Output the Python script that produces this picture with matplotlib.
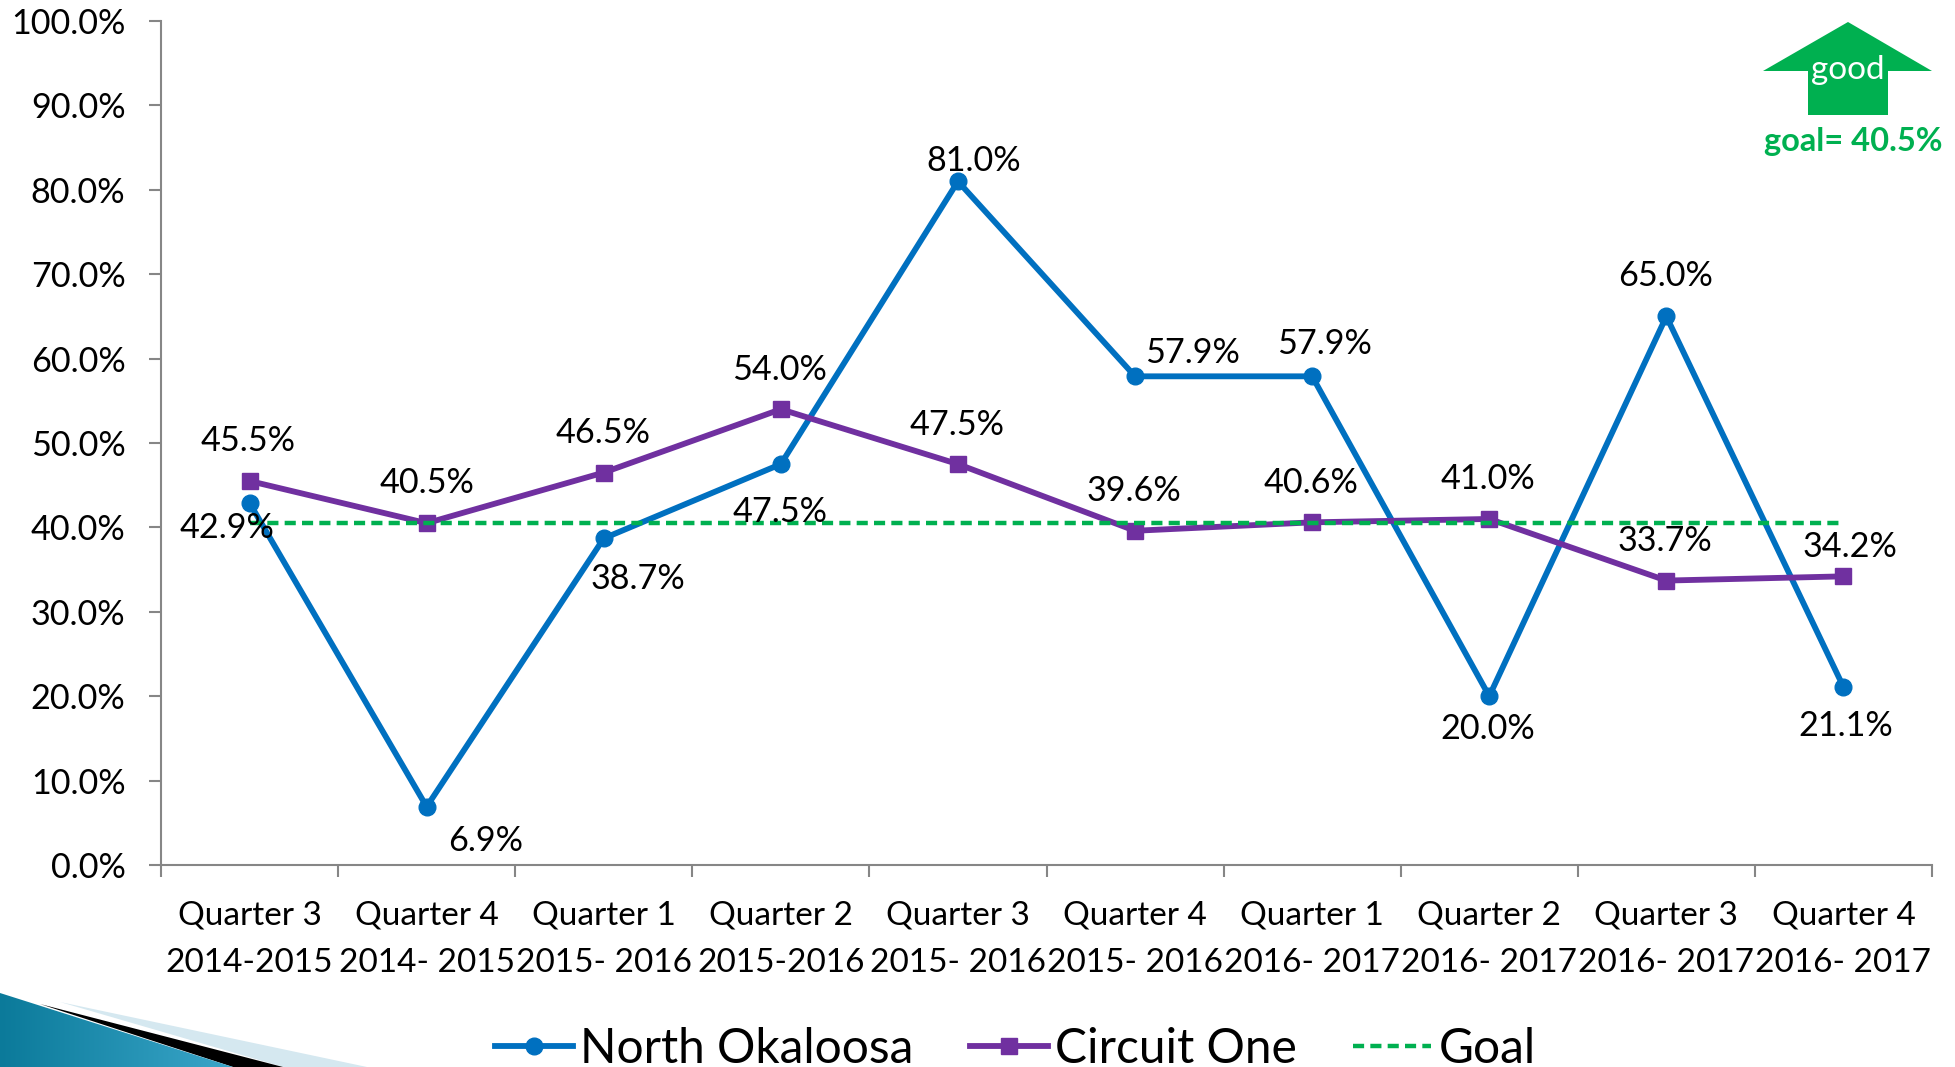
import numpy as np
import matplotlib
matplotlib.use("Agg")
import matplotlib.pyplot as plt
from matplotlib.patches import Polygon
from matplotlib.lines import Line2D

quarters = ["Quarter 3\n2014-2015", "Quarter 4\n2014- 2015", "Quarter 1\n2015- 2016",
            "Quarter 2\n2015-2016", "Quarter 3\n2015- 2016", "Quarter 4\n2015- 2016",
            "Quarter 1\n2016- 2017", "Quarter 2\n2016- 2017", "Quarter 3\n2016- 2017",
            "Quarter 4\n2016- 2017"]
north_okaloosa = [42.9, 6.9, 38.7, 47.5, 81.0, 57.9, 57.9, 20.0, 65.0, 21.1]
circuit_one = [45.5, 40.5, 46.5, 54.0, 47.5, 39.6, 40.6, 41.0, 33.7, 34.2]
goal = [40.5] * 10

# label offsets in pixels
north_off = [(-23, -25), (59, -34), (34, -41), (-1, -48), (16, 20),
             (57, 23), (12, 32), (-1, -33), (-1, 40), (2, -39)]
circuit_off = [(-1, 40), (0, 40), (-1, 40), (-1, 39), (-1, 39),
               (-1, 40), (-1, 39), (-1, 40), (-1, 40), (7, 29)]

BLUE = "#0070c0"
PURPLE = "#7030a0"
GREEN = "#00b050"
GRAY = "#868686"
W, H = 1956, 1067

plt.rcParams['font.family'] = ['Lato', 'DejaVu Sans']

fig = plt.figure(figsize=(W / 100, H / 100), dpi=100)
ax = fig.add_axes([161 / W, 1 - 865 / H, (1932 - 161) / W, (865 - 21) / H])

x = np.arange(10) + 0.5
ax.plot(x, north_okaloosa, color=BLUE, lw=4.2, marker="o", ms=12, label="North Okaloosa", zorder=3)
ax.plot(x, circuit_one, color=PURPLE, lw=4.2, marker="s", ms=12, label="Circuit One", zorder=4)
ax.plot(x, goal, color=GREEN, lw=3.2, ls=(0, (2.5, 1.4)), label="Goal", zorder=5)

ax.set_xlim(0, 10)
ax.set_ylim(0, 100)
ax.set_yticks(np.arange(0, 101, 10))
ax.set_yticklabels(["%.1f%%" % v for v in np.arange(0, 101, 10)])
ax.set_xticks(np.arange(11))
ax.set_xticklabels([])
ax.set_xticks(x, minor=True)
ax.set_xticklabels(quarters, minor=True)
ax.tick_params(axis="y", which="major", length=8.6, width=1.5, color=GRAY, labelsize=24.6, pad=17)
ax.tick_params(axis="x", which="major", length=8.6, width=1.5, color=GRAY)
ax.tick_params(axis="x", which="minor", length=0, labelsize=24, pad=25.5)
for lab in ax.get_xticklabels(minor=True):
    lab.set_linespacing(1.73)
for s in ["top", "right"]:
    ax.spines[s].set_visible(False)
for s in ["left", "bottom"]:
    ax.spines[s].set_color(GRAY)
    ax.spines[s].set_linewidth(1.5)

for xi, v, off in zip(x, north_okaloosa, north_off):
    ax.annotate("%.1f%%" % v, (xi, v), xytext=off, textcoords="offset pixels",
                ha="center", va="center", fontsize=24.6, color="black", zorder=6)
for xi, v, off in zip(x, circuit_one, circuit_off):
    ax.annotate("%.1f%%" % v, (xi, v), xytext=off, textcoords="offset pixels",
                ha="center", va="center", fontsize=24.6, color="black", zorder=6)

handles = [Line2D([], [], color=BLUE, lw=4.2, marker="o", ms=12),
           Line2D([], [], color=PURPLE, lw=4.2, marker="s", ms=12),
           Line2D([], [], color=GREEN, lw=3.2, ls=(0, (2.5, 1.4)))]
fig.legend(handles, ["North Okaloosa", "Circuit One", "Goal"], ncol=3, frameon=False,
           loc="lower center", bbox_to_anchor=(814 * 1.2474 / W, -0.026), fontsize=34.5,
           handlelength=1.62, handletextpad=0.16, columnspacing=1.17, borderpad=0)

# overlay in picture pixels for the arrow and the corner decoration
deco = fig.add_axes([0, 0, 1, 1], zorder=10)
deco.set_xlim(0, W)
deco.set_ylim(H, 0)
deco.axis("off")
deco.add_patch(Polygon([(1848, 22), (1932, 71), (1888, 71), (1888, 115), (1808, 115),
                        (1808, 71), (1763, 71)], closed=True, fc=GREEN, ec="none"))
deco.text(1848, 70, "good", color="white", fontsize=24, ha="center", va="center")
deco.text(1853, 142, "goal= 40.5%", color=GREEN, fontsize=23.5, fontweight="bold", ha="center", va="center")

deco.add_patch(Polygon([(60, 1002), (367, 1067), (283, 1067)], closed=True, fc="#d5e8f0", ec="none"))
deco.add_patch(Polygon([(40, 1004), (283, 1067), (233, 1067)], closed=True, fc="black", ec="none"))
grad = np.linspace(0, 1, 256).reshape(1, -1)
cmap = matplotlib.colors.LinearSegmentedColormap.from_list("teal", ["#0b7a9a", "#3aa6c9"])
im = deco.imshow(grad, extent=(0, 233, 1067, 993), cmap=cmap, aspect="auto", zorder=2)
wedge = Polygon([(0, 993), (233, 1067), (0, 1067)], closed=True, transform=deco.transData, fc="none", ec="none")
deco.add_patch(wedge)
im.set_clip_path(wedge)
deco.set_xlim(0, W)
deco.set_ylim(H, 0)

fig.savefig("out.png", dpi=100)
